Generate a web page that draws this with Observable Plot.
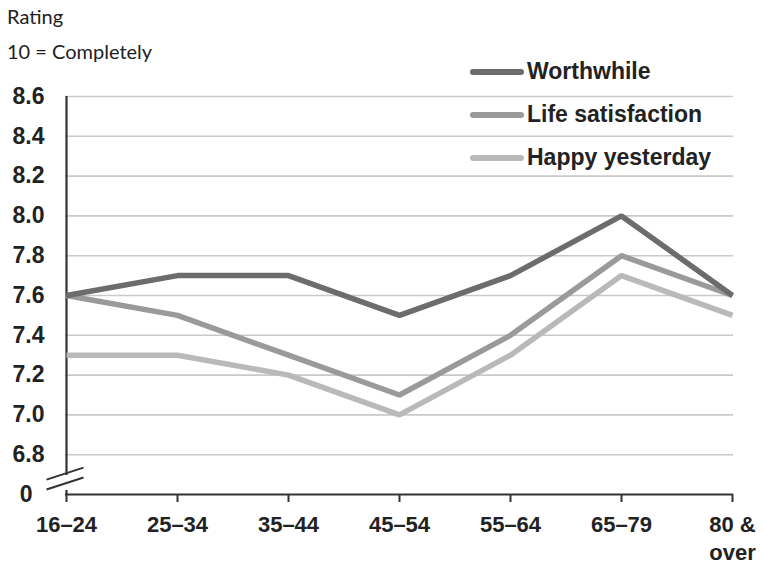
<!DOCTYPE html>
<html>
<head>
<meta charset="utf-8">
<script src="https://cdn.jsdelivr.net/npm/d3@7"></script>
<script src="https://cdn.jsdelivr.net/npm/@observablehq/plot@0.6"></script>
<style>
  html, body { margin: 0; padding: 0; background: #fff; }
  #wrap { position: relative; width: 763px; height: 565px; overflow: hidden; }
  .title { position: absolute; left: 7px; font-family: "Lato", "Open Sans", sans-serif; font-size: 20px; color: #222; }
  #legend { position: absolute; left: 470px; top: 50px; font-family: "Liberation Sans", Arial, sans-serif; font-weight: bold; font-size: 23px; color: #222; }
  .item { display: flex; align-items: center; height: 43px; }
  .sw { width: 54px; height: 6px; border-radius: 3px; margin-right: 3px; }
</style>
</head>
<body>
<div id="wrap">
  <div class="title" style="top:4px">Rating</div>
  <div class="title" style="top:39px">10 = Completely</div>
  <div id="chart"></div>
  <div id="legend"></div>
</div>
<script>
const ages = ["16–24", "25–34", "35–44", "45–54", "55–64", "65–79", "80 &\nover"];
const seriesNames = ["Worthwhile", "Life satisfaction", "Happy yesterday"];
const seriesColors = ["#6c6c6c", "#9a9a9a", "#b9b9b9"];
const worthwhile = [7.6, 7.7, 7.7, 7.5, 7.7, 8.0, 7.6];
const lifeSatisfaction = [7.6, 7.5, 7.3, 7.1, 7.4, 7.8, 7.6];
const happyYesterday = [7.3, 7.3, 7.2, 7.0, 7.3, 7.7, 7.5];
const yTicks = [6.6, 6.8, 7.0, 7.2, 7.4, 7.6, 7.8, 8.0, 8.2, 8.4, 8.6];
const yTickLabels = ["0", "6.8", "7.0", "7.2", "7.4", "7.6", "7.8", "8.0", "8.2", "8.4", "8.6"];
const gridTicks = yTicks.slice(1);
const yBase = 6.6;
const yTop = 8.6;
const breakTop = 6.695;
const breakBottom = 6.62;
const breakMarks = [6.705, 6.655];

const values = [worthwhile, lifeSatisfaction, happyYesterday];
const rows = [];
for (let s = values.length - 1; s >= 0; s--) {
  values[s].forEach((v, i) => rows.push({series: seriesNames[s], age: ages[i], value: v}));
}

const chart = Plot.plot({
  width: 763,
  height: 565,
  marginTop: 96,
  marginBottom: 71,
  marginLeft: 65,
  marginRight: 30,
  style: {fontFamily: "'Liberation Sans', Arial, sans-serif", fontWeight: "bold", color: "#222", background: "#fff"},
  x: {type: "point", domain: ages, padding: 0, label: null},
  y: {domain: [yBase, yTop], label: null},
  color: {domain: seriesNames, range: seriesColors},
  marks: [
    Plot.ruleY(gridTicks, {stroke: "#c9c9c9", strokeWidth: 1.6}),
    Plot.axisY({ticks: yTicks, tickFormat: (d, i) => yTickLabels[i], tickSize: 0, tickPadding: 21, fontSize: 23, fontWeight: "bold", label: null}),
    Plot.axisX({tickSize: 8, tickPadding: 9, stroke: "#333", strokeWidth: 2, fontSize: 22, fontWeight: "bold", lineHeight: 1.3, label: null}),
    Plot.ruleY([yBase], {stroke: "#333", strokeWidth: 2.2}),
    Plot.ruleX([{y1: breakTop, y2: yTop}, {y1: yBase, y2: breakBottom}], {x: () => ages[0], y1: "y1", y2: "y2", stroke: "#333", strokeWidth: 2.2}),
    Plot.link(breakMarks, {x1: () => ages[0], x2: () => ages[0], y1: d => d, y2: d => d, stroke: "#333", strokeWidth: 2}),
    Plot.line(rows, {x: "age", y: "value", z: "series", stroke: "series", strokeWidth: 5.5, strokeLinejoin: "miter", strokeLinecap: "butt"})
  ]
});
document.getElementById("chart").appendChild(chart);

// break marks: short diagonal strokes centred on the axis
d3.select(chart).selectAll("g[aria-label='link'] path").each(function () {
  const d = d3.select(this).attr("d");
  const m = /M([\d.\-]+),([\d.\-]+)/.exec(d);
  if (!m) return;
  const cx = +m[1], cy = +m[2];
  d3.select(this).attr("d", `M${cx - 20},${cy + 6}L${cx + 17},${cy - 6}`);
});

// the "0" label sits a little further left, clear of the break marks
d3.select(chart).selectAll("g[aria-label='y-axis tick label'] text").each(function () {
  if (d3.select(this).text() === "0") d3.select(this).attr("dx", -12);
});

const legend = document.getElementById("legend");
seriesNames.forEach((n, i) => {
  const it = document.createElement("div");
  it.className = "item";
  it.innerHTML = `<span class="sw" style="background:${seriesColors[i]}"></span><span>${n}</span>`;
  legend.appendChild(it);
});
</script>
</body>
</html>
